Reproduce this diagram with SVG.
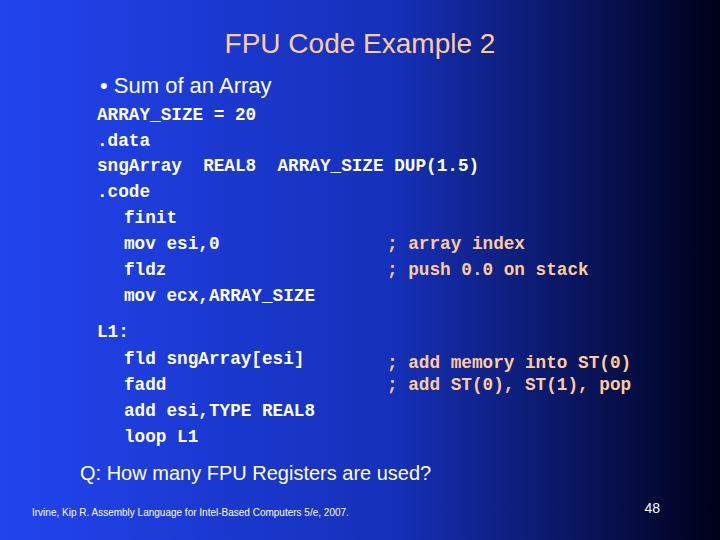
<svg xmlns="http://www.w3.org/2000/svg" width="720" height="540" viewBox="0 0 720 540">
<defs>
<linearGradient id="bg" x1="0" y1="0" x2="1" y2="0">
<stop offset="0" stop-color="#2244ee"/>
<stop offset="0.55" stop-color="#1530b8"/>
<stop offset="1" stop-color="#000018"/>
</linearGradient>
<style>
.c{font-family:"Liberation Mono",monospace;font-weight:bold;font-size:17.7px;fill:#ffffff;white-space:pre}
.m{font-family:"Liberation Mono",monospace;font-weight:bold;font-size:17.7px;fill:#ffcc99;white-space:pre}
.s{font-family:"Liberation Sans",Arial,sans-serif}
</style>
</defs>
<rect width="720" height="540" fill="url(#bg)"/>
<text class="s" x="360" y="53" text-anchor="middle" font-size="28" fill="#ffcc99">FPU Code Example 2</text>
<text class="s" x="100" y="93" font-size="22" fill="#ffffff">• Sum of an Array</text>
<g>
<text class="c" x="97" y="120">ARRAY_SIZE = 20</text>
<text class="c" x="97" y="146">.data</text>
<text class="c" x="97" y="171">sngArray  REAL8  ARRAY_SIZE DUP(1.5)</text>
<text class="c" x="97" y="197">.code</text>
<text class="c" x="124" y="223">finit</text>
<text class="c" x="124" y="249">mov esi,0</text>
<text class="c" x="124" y="275">fldz</text>
<text class="c" x="124" y="301">mov ecx,ARRAY_SIZE</text>
<text class="c" x="97" y="337">L1:</text>
<text class="c" x="124" y="364">fld sngArray[esi]</text>
<text class="c" x="124" y="390">fadd</text>
<text class="c" x="124" y="416">add esi,TYPE REAL8</text>
<text class="c" x="124" y="442">loop L1</text>
<text class="m" x="387" y="249">; array index</text>
<text class="m" x="387" y="275">; push 0.0 on stack</text>
<text class="m" x="387" y="368">; add memory into ST(0)</text>
<text class="m" x="387" y="390">; add ST(0), ST(1), pop</text>
</g>
<text class="s" x="80" y="480" font-size="20" fill="#ffffff">Q: How many FPU Registers are used?</text>
<text class="s" x="32" y="516" font-size="10" fill="#ffffff">Irvine, Kip R. Assembly Language for Intel-Based Computers 5/e, 2007.</text>
<text class="s" x="660" y="513" font-size="14" fill="#ffffff" text-anchor="end">48</text>
</svg>
